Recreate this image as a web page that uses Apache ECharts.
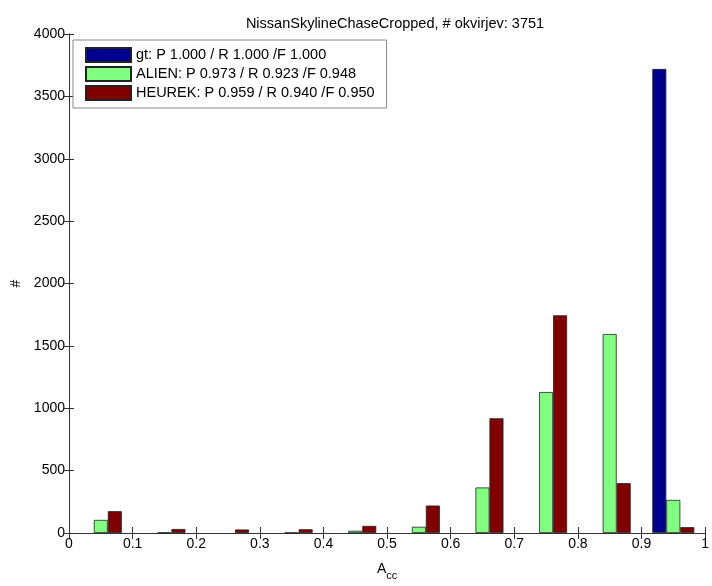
<!DOCTYPE html>
<html><head><meta charset="utf-8">
<script src="https://cdn.jsdelivr.net/npm/echarts@6/dist/echarts.min.js"></script>
<style>html,body{margin:0;padding:0;background:#fff}#c{width:712px;height:586px}</style>
</head><body><div id="c"></div>
<script>
const binCenters = ['0.05','0.15','0.25','0.35','0.45','0.55','0.65','0.75','0.85','0.95'];
const gtValues     = [0, 0, 0, 0, 0, 0, 0, 0, 0, 3720];
const alienValues  = [105, 4, 0, 3, 18, 50, 365, 1130, 1595, 265];
const heurekValues = [175, 32, 28, 30, 57, 220, 920, 1745, 400, 47];
const seriesNames = ['gt: P 1.000 / R 1.000 /F 1.000', 'ALIEN: P 0.973 / R 0.923 /F 0.948', 'HEUREK: P 0.959 / R 0.940 /F 0.950'];
const titleText = 'NissanSkylineChaseCropped, # okvirjev: 3751';

const FONT = 'Liberation Sans';
const chart = echarts.init(document.getElementById('c'));
const axisCol = '#333';
const colors = ['#00008f', '#80ff80', '#800000'];
const vals = [gtValues, alienValues, heurekValues];

chart.setOption({
  animation: false,
  textStyle: {fontFamily: FONT},
  title: {text: titleText, left: 390, textAlign: 'center', top: 11,
          textStyle: {fontFamily: FONT, fontSize: 14.5, fontWeight: 'normal', color: '#000'}},
  grid: {left: 69, right: -1, top: 34, bottom: 43},
  legend: {
    data: seriesNames, orient: 'vertical', left: 73, top: 40,
    itemWidth: 45, itemHeight: 14, itemGap: 1,
    padding: [6, 12, 6, 12], backgroundColor: '#fff', borderColor: '#888', borderWidth: 1,
    textStyle: {fontFamily: FONT, fontSize: 14.5, lineHeight: 18, color: '#000'},
    icon: 'rect'
  },
  xAxis: [
    {type: 'value', min: 0, max: 1, interval: 0.1, position: 'bottom',
     name: 'A{s|cc}', nameLocation: 'middle', nameGap: 25,
     nameTextStyle: {fontFamily: FONT, fontSize: 14, color: '#000',
       rich: {s: {fontSize: 11, verticalAlign: 'bottom', padding: [12, 0, 0, 0], fontFamily: FONT}}},
     axisLine: {lineStyle: {color: axisCol}}, axisTick: {inside: true, length: 6, lineStyle: {color: axisCol}},
     axisLabel: {fontFamily: FONT, fontSize: 14, color: '#000', margin: 4}, splitLine: {show: false}},
    {type: 'value', min: 0, max: 1, interval: 0.1, position: 'top',
     axisLine: {lineStyle: {color: axisCol}}, axisTick: {inside: true, length: 6, lineStyle: {color: axisCol}},
     axisLabel: {show: false}, splitLine: {show: false}},
    {type: 'category', data: binCenters, show: false, boundaryGap: true}
  ],
  yAxis: [
    {type: 'value', min: 0, max: 4000, interval: 500, position: 'left',
     name: '#', nameLocation: 'middle', nameGap: 44, nameRotate: 90,
     nameTextStyle: {fontFamily: FONT, fontSize: 14, color: '#000'},
     axisLine: {show: true, lineStyle: {color: axisCol}}, axisTick: {show: true, inside: true, length: 5, lineStyle: {color: axisCol}},
     axisLabel: {fontFamily: FONT, fontSize: 14, color: '#000', margin: 4, formatter: v => String(v)}, splitLine: {show: false}},
    {type: 'value', min: 0, max: 4000, interval: 500, position: 'right',
     axisLine: {show: true, lineStyle: {color: axisCol}}, axisTick: {show: true, inside: true, length: 5, lineStyle: {color: axisCol}},
     axisLabel: {show: false}, splitLine: {show: false}}
  ],
  series: seriesNames.map((n, i) => ({
    name: n, type: 'bar', xAxisIndex: 2, yAxisIndex: 0,
    data: vals[i].map(v => v === 0 ? '-' : v), barWidth: 14, barGap: '0%',
    itemStyle: {color: colors[i], borderColor: '#222', borderWidth: 0.8}
  }))
});
</script></body></html>
